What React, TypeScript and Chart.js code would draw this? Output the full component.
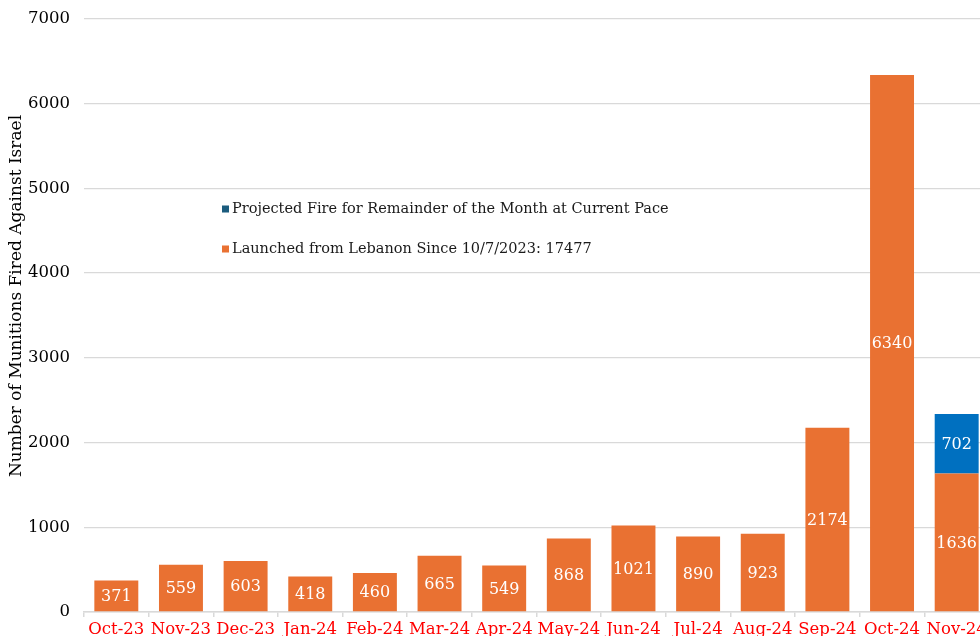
import React, { useEffect, useRef } from "react";
import { Chart, registerables } from "chart.js";

Chart.register(...registerables);

const categories = [
  "Oct-23", "Nov-23", "Dec-23", "Jan-24", "Feb-24", "Mar-24", "Apr-24",
  "May-24", "Jun-24", "Jul-24", "Aug-24", "Sep-24", "Oct-24", "Nov-24",
];
const launched = [371, 559, 603, 418, 460, 665, 549, 868, 1021, 890, 923, 2174, 6340, 1636];
const projected = [0, 0, 0, 0, 0, 0, 0, 0, 0, 0, 0, 0, 0, 702];
const launchedLabel = "Launched from Lebanon Since 10/7/2023: 17477";
const projectedLabel = "Projected Fire for Remainder of the Month at Current Pace";
const yTitle = "Number of Munitions Fired Against Israel";
const yMin = 0;
const yMax = 7000;
const yStep = 1000;

const ORANGE = "#E97132";
const BLUE = "#0070C0";
const LEGEND_BLUE = "#1B5C7E";
const GRID = "#d9d9d9";
const FONT = "'DejaVu Serif', serif";

const labelPlugin = {
  id: "valueLabels",
  afterDatasetsDraw(chart: any) {
    const ctx = chart.ctx;
    ctx.save();
    ctx.fillStyle = "#ffffff";
    ctx.font = `16px ${FONT}`;
    ctx.textAlign = "center";
    ctx.textBaseline = "middle";
    chart.data.datasets.forEach((ds: any, i: number) => {
      const meta = chart.getDatasetMeta(i);
      meta.data.forEach((el: any, j: number) => {
        const v = ds.data[j];
        if (!v) return;
        const y = (el.y + el.base) / 2;
        ctx.fillText(String(v), el.x, y + 1);
      });
    });
    ctx.restore();
  },
};

const extrasPlugin = {
  id: "extras",
  afterDraw(chart: any) {
    const ctx = chart.ctx;
    ctx.save();
    // y-axis title
    ctx.translate(17, 296);
    ctx.rotate(-Math.PI / 2);
    ctx.fillStyle = "#000000";
    ctx.font = `17px ${FONT}`;
    ctx.textAlign = "center";
    ctx.textBaseline = "middle";
    ctx.fillText(yTitle, 0, 0);
    ctx.restore();

    // legend
    ctx.save();
    ctx.font = `14.5px ${FONT}`;
    ctx.textBaseline = "middle";
    ctx.textAlign = "left";
    const items = [
      { text: chart.data.datasets[1].label, color: LEGEND_BLUE, y: 209 },
      { text: chart.data.datasets[0].label, color: ORANGE, y: 249 },
    ];
    items.forEach((it) => {
      ctx.fillStyle = it.color;
      ctx.fillRect(222, it.y - 3.5, 7, 7);
      ctx.fillStyle = "#1a1a1a";
      ctx.fillText(it.text, 232, it.y);
    });
    ctx.restore();
  },
};

export default function App() {
  const ref = useRef<HTMLCanvasElement>(null);
  useEffect(() => {
    if (!ref.current) return;
    const chart = new Chart(ref.current, {
      type: "bar",
      data: {
        labels: categories,
        datasets: [
          {
            label: launchedLabel,
            data: launched,
            backgroundColor: ORANGE,
            categoryPercentage: 1,
            barPercentage: 0.68,
          },
          {
            label: projectedLabel,
            data: projected,
            backgroundColor: BLUE,
            categoryPercentage: 1,
            barPercentage: 0.68,
          },
        ],
      },
      options: {
        responsive: false,
        animation: false,
        layout: { padding: { left: 0, right: 11, top: 19, bottom: 0 } },
        plugins: {
          legend: { display: false },
          tooltip: { enabled: false },
        },
        scales: {
          x: {
            stacked: true,
            grid: {
              drawOnChartArea: false,
              drawTicks: true,
              tickLength: 5,
              color: GRID,
              lineWidth: 1.5,
            },
            border: { display: true, color: GRID, width: 1.5 },
            ticks: {
              color: "#FF0000",
              font: { family: FONT, size: 16.5 },
              padding: 3,
              maxRotation: 0,
              autoSkip: false,
            },
            afterFit(scale: any) {
              scale.height = 48;
            },
          },
          y: {
            stacked: true,
            min: yMin,
            max: yMax,
            ticks: {
              stepSize: yStep,
              color: "#000000",
              font: { family: FONT, size: 16.5 },
              padding: 0,
              callback: (v: any) => String(v),
            },
            grid: {
              color: GRID,
              lineWidth: 1.3,
              drawTicks: true,
              tickLength: 14,
              tickColor: "rgba(0,0,0,0)",
            },
            border: { display: false },
            afterFit(scale: any) {
              scale.width = 84;
            },
          },
        },
      },
      plugins: [labelPlugin, extrasPlugin],
    });
    return () => chart.destroy();
  }, []);
  return (
    <div
      style={{
        position: "fixed",
        left: 0,
        top: 0,
        width: 980,
        height: 636,
        overflow: "hidden",
        background: "#ffffff",
      }}
    >
      <canvas ref={ref} width={1000} height={660} />
    </div>
  );
}
